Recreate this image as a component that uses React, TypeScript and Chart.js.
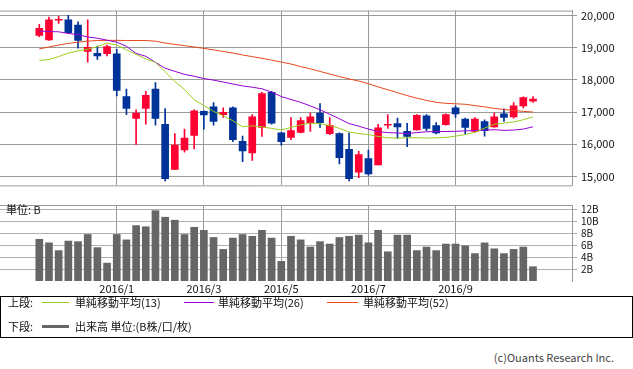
import React, { useEffect, useRef } from "react";
import { Chart, registerables } from "chart.js";

Chart.register(...registerables);

// ---- data (weekly candles) ----
const weeks = [
  "2015/11/09", "2015/11/16", "2015/11/23", "2015/11/30", "2015/12/07", "2015/12/14", "2015/12/21", "2015/12/28",
  "2016/01/04", "2016/01/11", "2016/01/18", "2016/01/25", "2016/02/01", "2016/02/08", "2016/02/15", "2016/02/22",
  "2016/02/29", "2016/03/07", "2016/03/14", "2016/03/21", "2016/03/28", "2016/04/04", "2016/04/11", "2016/04/18",
  "2016/04/25", "2016/05/02", "2016/05/09", "2016/05/16", "2016/05/23", "2016/05/30", "2016/06/06", "2016/06/13",
  "2016/06/20", "2016/06/27", "2016/07/04", "2016/07/11", "2016/07/18", "2016/07/25", "2016/08/01", "2016/08/08",
  "2016/08/15", "2016/08/22", "2016/08/29", "2016/09/05", "2016/09/12", "2016/09/19", "2016/09/26", "2016/10/03",
  "2016/10/10", "2016/10/17", "2016/10/24", "2016/10/31",
];

const open = [
  19380, 19240, 19850, 19860, 19700, 18880, 18820, 18810, 18810, 17480, 16800, 17110, 17710, 16620, 15220, 15820,
  16270, 17020, 17160, 16920, 17130, 16090, 15730, 16520, 17610, 16350, 16210, 16370, 16670, 16970, 16330, 16330,
  15840, 15130, 15550, 15360, 16590, 16640, 16400, 16440, 16880, 16580, 16610, 17130, 16780, 16400, 16700, 16540,
  16940, 16850, 17190, 17340,
];
const high = [
  19720, 19950, 19970, 20000, 19800, 19860, 19050, 19080, 18950, 17710, 17070, 17640, 17910, 17110, 16330, 16470,
  17070, 17040, 17290, 17130, 17160, 16250, 16920, 17610, 17640, 16370, 16830, 16830, 16970, 17260, 16830, 16350,
  16350, 15780, 15820, 16620, 16920, 16810, 16650, 16920, 16920, 16670, 16940, 17190, 16810, 16830, 16760, 16970,
  17100, 17290, 17470, 17480,
];
const low = [
  19340, 19220, 19750, 19430, 18980, 18550, 18630, 18740, 17500, 16920, 15990, 16620, 16590, 14860, 15220, 15750,
  15850, 16470, 16590, 16830, 16080, 15460, 15500, 16240, 16620, 15970, 16140, 16350, 16400, 16520, 16300, 15390,
  14860, 14960, 15040, 15360, 16490, 16180, 15920, 16440, 16420, 16320, 16590, 16830, 16330, 16370, 16250, 16520,
  16710, 16810, 17130, 17300,
];
const close = [
  19600, 19860, 19880, 19460, 19220, 19010, 18740, 19030, 17670, 17110, 16970, 17520, 16800, 14930, 15970, 16190,
  17040, 16910, 16710, 16990, 16140, 15790, 16850, 17570, 16650, 16080, 16420, 16730, 16850, 16670, 16590, 15580,
  14930, 15680, 15080, 16510, 16620, 16540, 16240, 16900, 16490, 16350, 16920, 16940, 16520, 16780, 16420, 16850,
  16830, 17190, 17450, 17400,
];

const sma13 = [
  18600, 18630, 18720, 18830, 18900, 18950, 19030, 19140, 19080, 18930, 18790, 18650, 18540, 18250, 17950, 17700,
  17380, 17200, 17020, 16880, 16730, 16540, 16570, 16540, 16490, 16444, 16520, 16600, 16654, 16636, 16580, 16493,
  16380, 16330, 16300, 16240, 16200, 16190, 16200, 16200, 16190, 16200, 16210, 16252, 16300, 16370, 16500, 16620,
  16654, 16690, 16760, 16850,
];
const sma26 = [
  19510, 19500, 19490, 19440, 19400, 19330, 19290, 19230, 19170, 19040, 18820, 18730, 18540, 18360, 18262, 18170,
  18110, 18040, 17990, 17930, 17870, 17810, 17770, 17720, 17620, 17480, 17390, 17300, 17190, 17070, 16930, 16790,
  16640, 16560, 16470, 16390, 16360, 16350, 16330, 16360, 16385, 16395, 16395, 16400, 16415, 16425, 16440, 16450,
  16430, 16440, 16470, 16540,
];
const sma52 = [
  18960, 19020, 19080, 19130, 19170, 19200, 19220, 19225, 19225, 19220, 19220, 19220, 19200, 19140, 19100, 19060,
  19020, 18975, 18930, 18880, 18830, 18770, 18720, 18670, 18610, 18550, 18490, 18410, 18340, 18260, 18180, 18100,
  18030, 17960, 17880, 17780, 17690, 17600, 17510, 17430, 17360, 17300, 17270, 17255, 17240, 17200, 17160, 17110,
  17080, 17050, 17020, 17000,
];

// volume in billions of shares
const volume = [
  7.0, 6.4, 5.1, 6.7, 6.6, 7.8, 5.6, 3.0, 7.8, 6.9, 9.3, 9.1, 11.8, 10.7, 10.2, 7.8, 9.0, 8.5, 7.3, 5.3, 7.2, 7.8,
  7.5, 8.5, 7.2, 3.3, 7.5, 6.9, 5.7, 6.6, 6.2, 7.3, 7.5, 7.7, 6.4, 8.5, 4.9, 7.7, 7.7, 5.1, 5.7, 5.1, 6.2, 6.2,
  5.9, 4.6, 6.4, 5.4, 4.6, 5.3, 5.7, 2.4,
];

const monthTickLabels = ["2016/1", "2016/3", "2016/5", "2016/7", "2016/9"];
const monthTickKeys = ["2016/01", "2016/03", "2016/05", "2016/07", "2016/09"];
const priceTicks = [15000, 16000, 17000, 18000, 19000, 20000];
const volumeTicks = [2, 4, 6, 8, 10, 12];

const seriesNames = ["単純移動平均(13)", "単純移動平均(26)", "単純移動平均(52)"];
const volumeName = "出来高 単位:(B株/口/枚)";

// ---- styles ----
const UP = "#ff0033";
const DOWN = "#003399";
const C13 = "#9acd1e";
const C26 = "#9400d3";
const C52 = "#e8481c";
const VOL = "#666666";
const GRID = "#9a9a9a";
const FONT = '"Noto Sans CJK JP", "DejaVu Sans", sans-serif';

const X_MIN = -4.06;
const X_MAX = 55.03;

const monthIdx = monthTickKeys.map((k) => weeks.findIndex((w) => w.startsWith(k)));

const framePlugin = {
  id: "frame",
  afterDraw(chart: any, _args: any, opts: any) {
    const { ctx, chartArea } = chart;
    ctx.save();
    ctx.strokeStyle = GRID;
    ctx.lineWidth = 1;
    ctx.beginPath();
    if (opts.top) {
      ctx.moveTo(chartArea.left, chartArea.top + 0.5);
      ctx.lineTo(chartArea.right, chartArea.top + 0.5);
    }
    if (opts.bottom) {
      ctx.moveTo(chartArea.left, chartArea.bottom + 0.5);
      ctx.lineTo(chartArea.right, chartArea.bottom + 0.5);
    }
    ctx.stroke();
    ctx.restore();
  },
};

export default function App() {
  const priceRef = useRef<HTMLCanvasElement | null>(null);
  const volRef = useRef<HTMLCanvasElement | null>(null);

  useEffect(() => {
    const colors = open.map((o, i) => (close[i] >= o ? UP : DOWN));
    const lineDs = (label: string, arr: number[], color: string) => ({
      type: "line" as const,
      label,
      data: arr.map((v, i) => ({ x: i, y: v })),
      borderColor: color,
      borderWidth: 1,
      pointRadius: 0,
      tension: 0,
      order: 0,
    });

    const price = new Chart(priceRef.current as HTMLCanvasElement, {
      type: "bar",
      data: {
        datasets: [
          lineDs(seriesNames[0], sma13, C13),
          lineDs(seriesNames[1], sma26, C26),
          lineDs(seriesNames[2], sma52, C52),
          {
            type: "bar",
            label: "body",
            data: open.map((o, i) => ({ x: i, y: [o, close[i]] })),
            backgroundColor: colors,
            barThickness: 7,
            grouped: false,
            minBarLength: 1,
            order: 1,
          } as any,
          {
            type: "bar",
            label: "wick",
            data: low.map((l, i) => ({ x: i, y: [l, high[i]] })),
            backgroundColor: colors,
            barThickness: 1,
            grouped: false,
            order: 2,
          } as any,
        ],
      },
      options: {
        responsive: false,
        animation: false,
        events: [],
        layout: { padding: { top: 1, bottom: 6, left: 0, right: 0 } },
        plugins: { legend: { display: false }, tooltip: { enabled: false }, frame: { top: true, bottom: true } } as any,
        scales: {
          x: {
            type: "linear",
            min: X_MIN,
            max: X_MAX,
            offset: false,
            afterBuildTicks: (s: any) => {
              s.ticks = monthIdx.map((v) => ({ value: v }));
            },
            afterFit: (s: any) => {
              s.height = 0;
            },
            ticks: { display: false },
            grid: { color: GRID, drawTicks: false, offset: false },
            border: { display: false },
          },
          y: {
            position: "right",
            min: 14721,
            max: 20149,
            beginAtZero: false,
            afterBuildTicks: (s: any) => {
              s.ticks = priceTicks.map((v) => ({ value: v }));
            },
            afterFit: (s: any) => {
              s.width = 61;
            },
            ticks: {
              autoSkip: false,
              color: "#111",
              padding: 4,
              font: { family: FONT, size: 11 },
              callback: (v: any) => Number(v).toLocaleString("en-US"),
            },
            grid: { color: GRID, tickLength: 5 },
            border: { display: true, color: GRID },
          },
        } as any,
      },
      plugins: [framePlugin],
    });

    const vol = new Chart(volRef.current as HTMLCanvasElement, {
      type: "bar",
      data: {
        datasets: [
          {
            label: volumeName,
            data: volume.map((v, i) => ({ x: i, y: v })),
            backgroundColor: VOL,
            barThickness: 7,
            grouped: false,
          } as any,
        ],
      },
      options: {
        responsive: false,
        animation: false,
        events: [],
        layout: { padding: { top: 5, bottom: 0, left: 0, right: 0 } },
        plugins: { legend: { display: false }, tooltip: { enabled: false }, frame: { top: true, bottom: false } } as any,
        scales: {
          x: {
            type: "linear",
            min: X_MIN,
            max: X_MAX,
            offset: false,
            afterBuildTicks: (s: any) => {
              s.ticks = monthIdx.map((v) => ({ value: v }));
            },
            afterFit: (s: any) => {
              s.height = 15;
            },
            ticks: {
              autoSkip: false,
              maxRotation: 0,
              padding: 1,
              color: "#111",
              font: { family: FONT, size: 11 },
              callback: (_v: any, i: number) => monthTickLabels[i],
            },
            grid: { color: GRID, drawTicks: false, offset: false },
            border: { display: false },
          },
          y: {
            position: "right",
            min: 0,
            max: 12.75,
            afterBuildTicks: (s: any) => {
              s.ticks = volumeTicks.map((v) => ({ value: v }));
            },
            afterFit: (s: any) => {
              s.width = 61;
            },
            ticks: {
              autoSkip: false,
              color: "#111",
              padding: 4,
              font: { family: FONT, size: 10, lineHeight: 1 },
              callback: (v: any) => `${v}B`,
            },
            grid: { color: "#b0b0b0", tickLength: 5 },
            border: { display: true, color: GRID },
          },
        } as any,
      },
      plugins: [framePlugin],
    });

    return () => {
      price.destroy();
      vol.destroy();
    };
  }, []);

  const txt: React.CSSProperties = {
    position: "absolute",
    fontFamily: FONT,
    fontSize: 11,
    lineHeight: "12px",
    color: "#111",
    whiteSpace: "nowrap",
  };
  const sample = (left: number, top: number, width: number, height: number, color: string): React.CSSProperties => ({
    position: "absolute",
    left,
    top,
    width,
    height,
    background: color,
  });

  return (
    <div style={{ position: "absolute", left: 0, top: 0, width: 633, height: 369, background: "#fff", overflow: "hidden" }}>
      <canvas ref={priceRef} width={633} height={196} style={{ position: "absolute", left: 0, top: 0, display: "block" }} />
      <canvas ref={volRef} width={633} height={100} style={{ position: "absolute", left: 0, top: 196, display: "block" }} />
      <div style={{ ...txt, left: 6, top: 203 }}>単位: B</div>

      <div
        style={{
          position: "absolute",
          left: 0,
          top: 296,
          width: 631,
          height: 40,
          border: "1px solid #000",
        }}
      />
      <div style={{ ...txt, left: 8, top: 296 }}>上段:</div>
      <div style={sample(42, 302, 27, 1, C13)} />
      <div style={{ ...txt, left: 75, top: 296 }}>{seriesNames[0]}</div>
      <div style={sample(184, 302, 30, 1, C26)} />
      <div style={{ ...txt, left: 218, top: 296 }}>{seriesNames[1]}</div>
      <div style={sample(327, 302, 31, 1, C52)} />
      <div style={{ ...txt, left: 363, top: 296 }}>{seriesNames[2]}</div>

      <div style={{ ...txt, left: 8, top: 320 }}>下段:</div>
      <div style={sample(42, 325, 27, 3, VOL)} />
      <div style={{ ...txt, left: 75, top: 320 }}>{volumeName}</div>

      <div style={{ ...txt, right: 19, top: 351, color: "#444" }}>(c)Ouants Research Inc.</div>
    </div>
  );
}
